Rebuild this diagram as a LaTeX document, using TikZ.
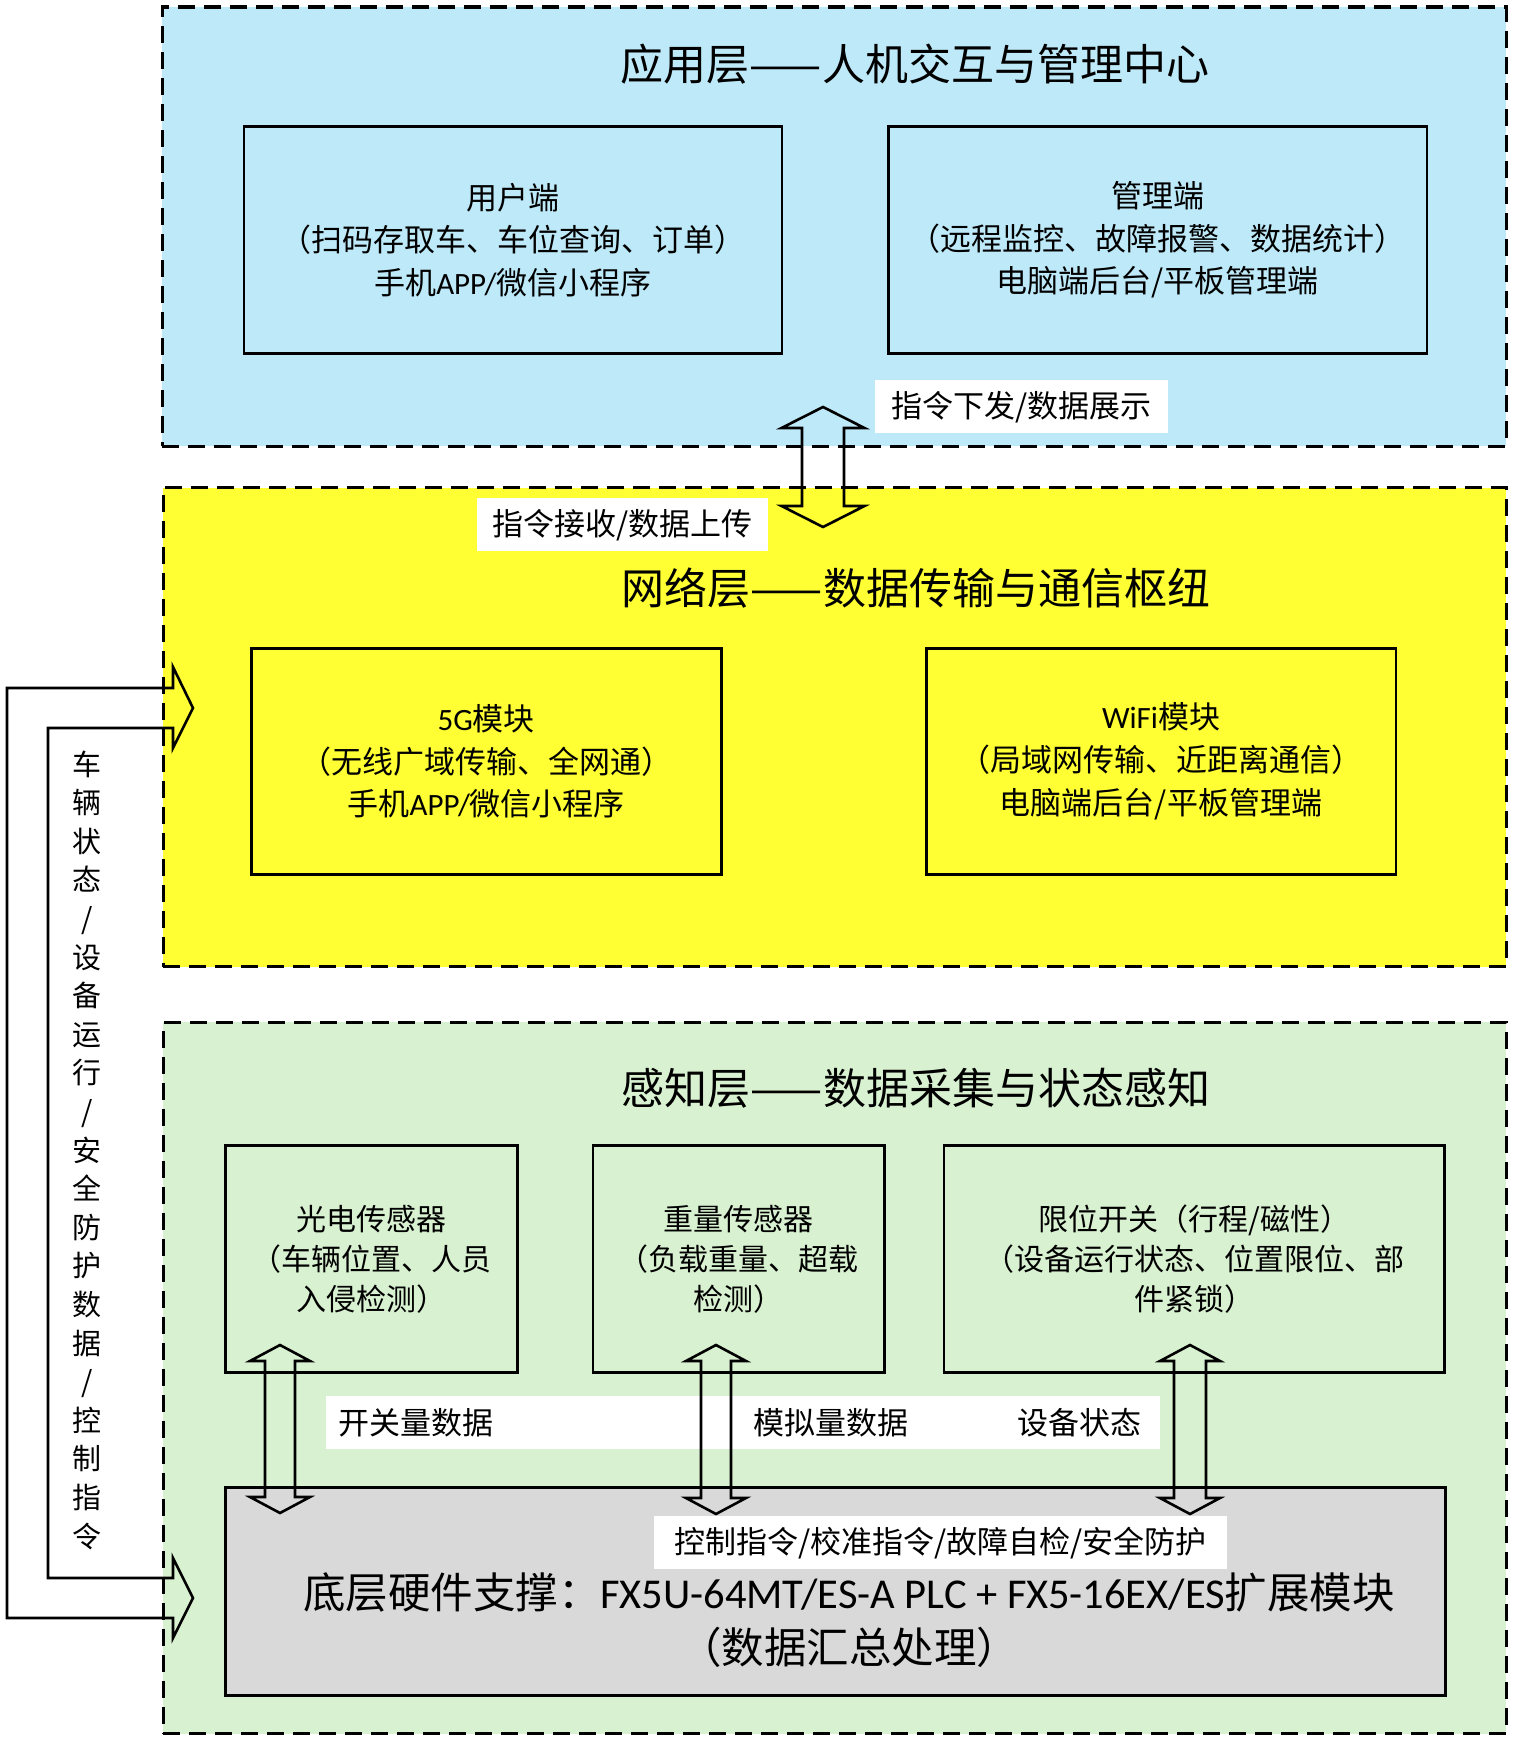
\documentclass[tikz,border=0pt]{standalone}
\usepackage{fontspec}
\setmainfont{Noto Sans CJK SC}
\newfontfamily\lat{Carlito}
\definecolor{bluebg}{HTML}{BEE9F8}
\definecolor{yellowbg}{HTML}{FFFF33}
\definecolor{greenbg}{HTML}{D8F1D0}
\definecolor{greybg}{HTML}{D9D9D9}
\newcommand\vdarrow[6]{% cx, top tip, bottom tip, half head, half shaft, head length
  \draw[arr] (#1,#2) -- (#1+#4,#2+#6) -- (#1+#5,#2+#6) -- (#1+#5,#3-#6) -- (#1+#4,#3-#6)
    -- (#1,#3) -- (#1-#4,#3-#6) -- (#1-#5,#3-#6) -- (#1-#5,#2+#6) -- (#1-#4,#2+#6) -- cycle;}
\begin{document}
\begin{tikzpicture}[x=1pt,y=-1pt,
  layer/.style={draw, line width=3.2pt, dash pattern=on 17pt off 9pt, anchor=north west, inner sep=0pt},
  box/.style={draw, line width=2.6pt, anchor=north west, align=center, inner sep=0pt,
     font=\fontsize{31}{42.6}\selectfont},
  gbox/.style={box, font=\fontsize{30}{40}\selectfont},
  title/.style={font=\fontsize{43}{50}\selectfont, inner sep=0pt},
  lbl/.style={fill=white, anchor=north west, inner sep=0pt, minimum height=53pt,
     font=\fontsize{31}{40}\selectfont},
  lbll/.style={fill=white, anchor=north west, inner ysep=0pt, minimum height=53pt, align=left,
     font=\fontsize{31}{40}\selectfont},
  arr/.style={draw, line width=2.6pt, line join=miter}]
\useasboundingbox (0,0) rectangle (1513,1737);

% layers
\node[layer, fill=bluebg, minimum width=1344pt, minimum height=439pt] (app) at (160.5,5.5) {};
\node[layer, fill=yellowbg, minimum width=1343pt, minimum height=479pt] (net) at (161.5,486) {};
\node[layer, fill=greenbg, minimum width=1343pt, minimum height=711.5pt] (per) at (161.5,1020.5) {};

% titles
\node[title] (t1) at (915,64) {应用层——人机交互与管理中心};
\node[title] (t2) at (916,588) {网络层——数据传输与通信枢纽};
\node[title] (t3) at (916,1088) {感知层——数据采集与状态感知};

% application layer boxes
\node[box, minimum width=538pt, minimum height=227pt] (user) at (242.6,125)
  {用户端\\（扫码存取车、车位查询、订单）\\手机{\lat APP/}微信小程序};
\node[box, minimum width=538.5pt, minimum height=227pt] (mgr) at (887,125)
  {管理端\\（远程监控、故障报警、数据统计）\\电脑端后台/平板管理端};

% network layer boxes
\node[box, minimum width=470pt, minimum height=226pt] (g5) at (250,647)
  {{\lat 5G}模块\\（无线广域传输、全网通）\\手机{\lat APP/}微信小程序};
\node[box, minimum width=469.5pt, minimum height=226pt] (wifi) at (925,647)
  {{\lat WiFi}模块\\（局域网传输、近距离通信）\\电脑端后台/平板管理端};

% perception layer boxes
\node[gbox, minimum width=292pt, minimum height=227pt] (pe) at (224,1144)
  {光电传感器\\（车辆位置、人员\\入侵检测）};
\node[gbox, minimum width=291.5pt, minimum height=227pt] (wt) at (591.5,1144)
  {重量传感器\\（负载重量、超载\\检测）};
\node[gbox, minimum width=500.5pt, minimum height=227pt] (lim) at (942.6,1144)
  {限位开关（行程/磁性）\\（设备运行状态、位置限位、部\\件紧锁）};

% hardware box
\node[box, fill=greybg, minimum width=1220pt, minimum height=208pt] (hw) at (224,1486) {};
\node[inner sep=0pt, align=center, font=\fontsize{42.5}{55}\selectfont] (hwt) at (849,1620)
  {底层硬件支撑：{\lat FX5U-64MT/ES-A PLC + FX5-16EX/ES}扩展模块\\（数据汇总处理）};

% labels
\node[lbl, minimum width=293pt] (l1) at (875,380) {指令下发/数据展示};
\node[lbl, minimum width=291pt] (l2) at (477,498) {指令接收/数据上传};
\node[lbll, inner xsep=12pt, text width=390pt] (l3) at (326,1396) {开关量数据};
\node[lbll, inner xsep=13pt, text width=234pt] (l4) at (740,1396) {模拟量数据};
\node[lbll, inner xsep=17pt, text width=126pt] (l5) at (1000,1396) {设备状态};
\node[lbl, minimum width=573pt] (l6) at (654,1516) {控制指令/校准指令/故障自检/安全防护};

% double arrows
\vdarrow{823}{407}{527}{41.5}{21}{21}
\vdarrow{280}{1345}{1513}{30}{15}{16}
\vdarrow{716}{1345}{1514}{30}{15}{16}
\vdarrow{1190}{1345}{1514}{30}{16}{16}

% left U-shaped arrow
\draw[arr] (173,688) -- (7,688) -- (7,1618) -- (173,1618) -- (173,1638) -- (193,1598)
  -- (173,1558) -- (173,1578) -- (48,1578) -- (48,728) -- (173,728) -- (173,748)
  -- (193,708) -- (173,667) -- cycle;

% vertical text
\node[inner sep=0pt, align=center, font=\fontsize{29}{38.6}\selectfont] (vt) at (87,1150)
  {车\\辆\\状\\态\\/\\设\\备\\运\\行\\/\\安\\全\\防\\护\\数\\据\\/\\控\\制\\指\\令};
\end{tikzpicture}
\end{document}
